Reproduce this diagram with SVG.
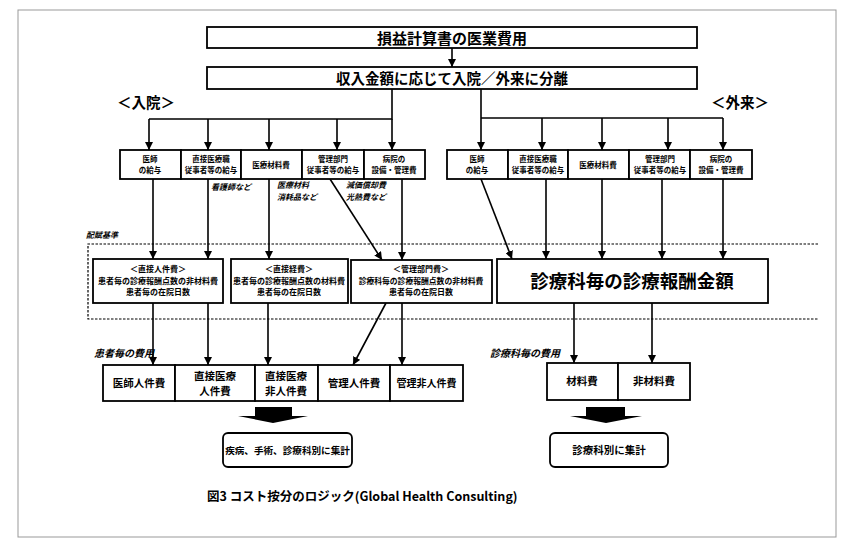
<svg xmlns="http://www.w3.org/2000/svg" width="853" height="552" viewBox="0 0 853 552">
<style>
text{font-family:"Noto Sans CJK JP","Noto Sans CJK SC",sans-serif;font-weight:700;fill:#000}
.box{fill:#fff;stroke:#000;stroke-width:1.8}
.ln{stroke:#000;stroke-width:1.6;fill:none}
.arr{stroke:#000;stroke-width:1.6;fill:none;marker-end:url(#ah)}
.s{font-size:7.5px}
.m{font-size:8px}
.b{font-size:10.5px}
.lab{font-size:8px;font-style:italic}
.lab2{font-size:10px;font-style:italic}
.c{text-anchor:middle}
</style>
<defs>
<marker id="ah" viewBox="0 0 10 10" refX="10" refY="5" markerWidth="8" markerHeight="8" markerUnits="userSpaceOnUse" orient="auto">
<path d="M0,0L10,5L0,10z" fill="#000"/>
</marker>
</defs>
<rect x="0" y="0" width="853" height="552" fill="#fff"/>
<rect x="18" y="10" width="818" height="527" fill="none" stroke="#999" stroke-width="1"/>

<g id="connectors">
<line class="arr" x1="452" y1="48" x2="452" y2="67"/>
<polyline class="ln" points="392,89 392,119 149,119"/>
<line class="arr" x1="149" y1="119" x2="149" y2="150"/>
<line class="arr" x1="208" y1="119" x2="208" y2="150"/>
<line class="arr" x1="269" y1="119" x2="269" y2="150"/>
<line class="arr" x1="337" y1="119" x2="337" y2="150"/>
<line class="arr" x1="392" y1="119" x2="392" y2="150"/>
<line class="arr" x1="481" y1="89" x2="481" y2="150"/>
<line class="ln" x1="481" y1="118" x2="723" y2="118"/>
<line class="arr" x1="542" y1="118" x2="542" y2="150"/>
<line class="arr" x1="602" y1="118" x2="602" y2="150"/>
<line class="arr" x1="668" y1="118" x2="668" y2="150"/>
<line class="arr" x1="723" y1="118" x2="723" y2="150"/>

<line class="arr" x1="153" y1="179" x2="153" y2="259"/>
<line class="arr" x1="208" y1="179" x2="208" y2="259"/>
<line class="arr" x1="269" y1="179" x2="269" y2="259"/>
<line class="arr" x1="330" y1="179" x2="382" y2="260"/>
<line class="arr" x1="402" y1="179" x2="402" y2="260"/>
<line class="arr" x1="481" y1="179" x2="512" y2="259"/>
<line class="arr" x1="546" y1="179" x2="546" y2="259"/>
<line class="arr" x1="602" y1="179" x2="602" y2="259"/>
<line class="arr" x1="662" y1="179" x2="662" y2="259"/>
<line class="arr" x1="723" y1="179" x2="723" y2="259"/>

<line class="arr" x1="153" y1="303" x2="153" y2="365"/>
<line class="arr" x1="208" y1="303" x2="208" y2="365"/>
<line class="arr" x1="268" y1="303" x2="268" y2="365"/>
<line class="arr" x1="386" y1="303" x2="353" y2="365"/>
<line class="arr" x1="402" y1="303" x2="402" y2="365"/>
<line class="arr" x1="574" y1="303" x2="574" y2="363"/>
<line class="arr" x1="652" y1="303" x2="652" y2="363"/>
</g>

<g id="band">
<polyline points="818,244 88,244 88,319 818,319" fill="none" stroke="#000" stroke-width="1.2" stroke-dasharray="2.5,1.5"/>
<text x="86" y="238" class="lab">配賦基準</text>
</g>

<g id="n-top"><rect class="box" x="207" y="27" width="490" height="21"/><text x="452" y="43.5" class="c" font-size="15">損益計算書の医業費用</text></g>
<g id="n-split"><rect class="box" x="207" y="67" width="490" height="22"/><text x="452" y="84" class="c" font-size="14.5">収入金額に応じて入院／外来に分離</text></g>
<text x="117" y="108" font-size="14.5">＜入院＞</text>
<text x="711" y="108" font-size="14.5">＜外来＞</text>

<g id="n-in1"><rect class="box" x="120" y="150" width="61" height="29"/><text x="150" y="162" class="c s">医師</text><text x="150" y="173" class="c s">の給与</text></g>
<g id="n-in2"><rect class="box" x="181" y="150" width="60" height="29"/><text x="211" y="162" class="c s">直接医療職</text><text x="211" y="173" class="c s">従事者等の給与</text></g>
<g id="n-in3"><rect class="box" x="241" y="150" width="61" height="29"/><text x="271" y="167.5" class="c s">医療材料費</text></g>
<g id="n-in4"><rect class="box" x="302" y="150" width="62" height="29"/><text x="333" y="162" class="c s">管理部門</text><text x="333" y="173" class="c s">従事者等の給与</text></g>
<g id="n-in5"><rect class="box" x="364" y="150" width="61" height="29"/><text x="394" y="162" class="c s">病院の</text><text x="394" y="173" class="c s">設備・管理費</text></g>

<g id="n-out1"><rect class="box" x="447" y="150" width="61" height="29"/><text x="477" y="162" class="c s">医師</text><text x="477" y="173" class="c s">の給与</text></g>
<g id="n-out2"><rect class="box" x="508" y="150" width="60" height="29"/><text x="538" y="162" class="c s">直接医療職</text><text x="538" y="173" class="c s">従事者等の給与</text></g>
<g id="n-out3"><rect class="box" x="568" y="150" width="61" height="29"/><text x="598" y="167.5" class="c s">医療材料費</text></g>
<g id="n-out4"><rect class="box" x="629" y="150" width="61" height="29"/><text x="660" y="162" class="c s">管理部門</text><text x="660" y="173" class="c s">従事者等の給与</text></g>
<g id="n-out5"><rect class="box" x="690" y="150" width="62" height="29"/><text x="721" y="162" class="c s">病院の</text><text x="721" y="173" class="c s">設備・管理費</text></g>

<text x="211" y="190" class="lab">看護師など</text>
<text x="277" y="188" class="lab">医療材料</text>
<text x="277" y="200" class="lab">消耗品など</text>
<text x="346" y="188" class="lab">減価償却費</text>
<text x="346" y="200" class="lab">光熱費など</text>

<g id="n-direct-labor"><rect class="box" x="93" y="259" width="130" height="44"/>
<text x="158" y="272" class="c m">＜直接人件費＞</text><text x="158" y="283.5" class="c m">患者毎の診療報酬点数の非材料費</text><text x="158" y="295" class="c m">患者毎の在院日数</text></g>
<g id="n-direct-exp"><rect class="box" x="231" y="259" width="117" height="44"/>
<text x="289" y="272" class="c m">＜直接経費＞</text><text x="289" y="283.5" class="c m">患者毎の診療報酬点数の材料費</text><text x="289" y="295" class="c m">患者毎の在院日数</text></g>
<g id="n-admin"><rect class="box" x="351" y="260" width="141" height="43"/>
<text x="421" y="272" class="c m">＜管理部門費＞</text><text x="421" y="283.5" class="c" font-size="7.8">診療科毎の診療報酬点数の非材料費</text><text x="421" y="295" class="c m">患者毎の在院日数</text></g>
<g id="n-dept"><rect class="box" x="497" y="259" width="271" height="44"/>
<text x="632" y="287.5" class="c" font-size="18.5">診療科毎の診療報酬金額</text></g>

<text x="94" y="357" class="lab2">患者毎の費用</text>
<text x="490" y="357" class="lab2">診療科毎の費用</text>

<g id="n-b1"><rect class="box" x="103" y="365" width="72" height="36"/><text x="139" y="387" class="c b">医師人件費</text></g>
<g id="n-b2"><rect class="box" x="175" y="365" width="80" height="36"/><text x="215" y="380" class="c b">直接医療</text><text x="215" y="395" class="c b">人件費</text></g>
<g id="n-b3"><rect class="box" x="255" y="365" width="63" height="36"/><text x="286" y="380" class="c b">直接医療</text><text x="286" y="395" class="c b">非人件費</text></g>
<g id="n-b4"><rect class="box" x="318" y="365" width="72" height="36"/><text x="354" y="387" class="c b">管理人件費</text></g>
<g id="n-b5"><rect class="box" x="390" y="365" width="73" height="36"/><text x="426.5" y="387" class="c" font-size="10">管理非人件費</text></g>
<g id="n-mat"><rect class="box" x="547" y="363" width="71" height="37"/><text x="582" y="385" class="c b">材料費</text></g>
<g id="n-nonmat"><rect class="box" x="618" y="363" width="72" height="37"/><text x="654" y="385" class="c b">非材料費</text></g>

<polygon points="255,407 292,407 292,416 308,416 273,423 238,416 255,416" fill="#000"/>
<polygon points="586,407 625,407 625,416 642,416 606,423 570,416 586,416" fill="#000"/>

<g id="n-res1"><rect class="box" x="223" y="433" width="129" height="34" rx="5"/><text x="287.5" y="454" class="c" font-size="9.6">疾病、手術、診療科別に集計</text></g>
<g id="n-res2"><rect class="box" x="550" y="433" width="118" height="34" rx="5"/><text x="609" y="454" class="c b">診療科別に集計</text></g>

<text x="207" y="501" font-size="12.5">図3 コスト按分のロジック(Global Health Consulting)</text>
</svg>
